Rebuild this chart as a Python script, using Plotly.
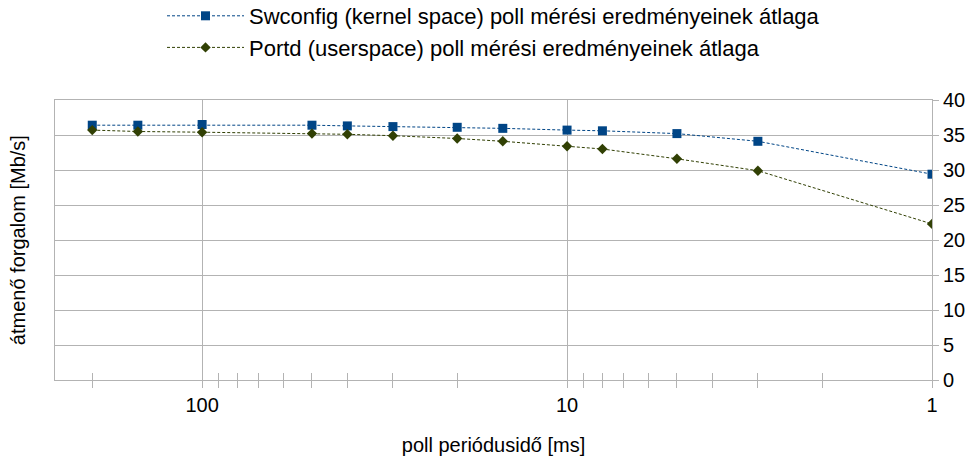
import math
import plotly.graph_objects as go

period_ms = [200, 150, 100, 50, 40, 30, 20, 15, 10, 8, 5, 3, 1]
swconfig = [36.4, 36.4, 36.5, 36.4, 36.3, 36.2, 36.1, 35.95, 35.7, 35.6, 35.2, 34.1, 29.4]
portd = [35.7, 35.5, 35.4, 35.2, 35.1, 34.9, 34.5, 34.1, 33.4, 33.0, 31.6, 29.9, 22.3]

major_ticks = [100, 10, 1]
minor_ticks = [200, 90, 80, 70, 60, 50, 40, 30, 20, 9, 8, 7, 6, 5, 4, 3, 2]
y_ticks = [0, 5, 10, 15, 20, 25, 30, 35, 40]

name_sw = "Swconfig (kernel space) poll mérési eredményeinek átlaga"
name_pd = "Portd (userspace) poll mérési eredményeinek átlaga"

GRID = "#b3b3b3"
FONT = "Liberation Sans, Arial, sans-serif"

fig = go.Figure()
fig.add_trace(go.Scatter(
    x=period_ms, y=swconfig, name=name_sw, mode="lines+markers",
    line=dict(color="#004586", width=1, dash="3px,2px"),
    marker=dict(symbol="square", size=9, color="#004586"),
))
fig.add_trace(go.Scatter(
    x=period_ms, y=portd, name=name_pd, mode="lines+markers",
    line=dict(color="#314004", width=1, dash="3px,2px"),
    marker=dict(symbol="diamond", size=8, color="#314004"),
))
# invisible trace on overlay axis to get ticks crossing the axis line
fig.add_trace(go.Scatter(x=[period_ms[0]], y=[swconfig[0]], xaxis="x2", mode="markers",
                         marker=dict(opacity=0), showlegend=False, hoverinfo="skip"))

xr = [math.log10(253), 0]

fig.update_layout(
    width=971, height=464,
    margin=dict(l=55, r=39, t=100, b=84, autoexpand=False),
    paper_bgcolor="white", plot_bgcolor="white",
    font=dict(family=FONT, size=20, color="#000000"),
    showlegend=True,
    legend=dict(orientation="v", x=0.5, xref="paper", xanchor="center", y=1.375,
                yref="paper", yanchor="top", font=dict(size=22),
                itemwidth=77, tracegroupgap=0, bgcolor="rgba(0,0,0,0)"),
    xaxis=dict(type="log", range=xr, tickvals=major_ticks, ticktext=[str(v) for v in major_ticks],
               showgrid=True, gridcolor=GRID, gridwidth=1,
               showline=True, linecolor=GRID, mirror=True, zeroline=False,
               ticks="outside", ticklen=7, tickcolor=GRID,
               minor=dict(tickvals=minor_ticks, ticks="outside", ticklen=7, tickcolor=GRID, showgrid=False),
               tickfont=dict(size=20),
               title=dict(text="poll periódusidő [ms]", font=dict(size=20), standoff=22)),
    xaxis2=dict(type="log", range=xr, overlaying="x", anchor="y", side="bottom",
                tickvals=major_ticks + minor_ticks, showticklabels=False,
                ticks="inside", ticklen=7, tickcolor=GRID, showgrid=False, showline=False, zeroline=False),
    yaxis=dict(range=[0, 40], tickvals=y_ticks, side="right",
               showgrid=True, gridcolor=GRID, gridwidth=1,
               showline=True, linecolor=GRID, mirror=True, zeroline=False,
               ticks="outside", ticklen=6, tickcolor=GRID, tickfont=dict(size=20)),
    annotations=[dict(text="átmenő forgalom [Mb/s]", textangle=-90, x=-0.042, xref="paper",
                      xanchor="center", y=0.5, yref="paper", showarrow=False, font=dict(size=20))],
)

fig.write_html("out.html", config={"displayModeBar": False},
               post_script="document.body.style.margin='0';")
